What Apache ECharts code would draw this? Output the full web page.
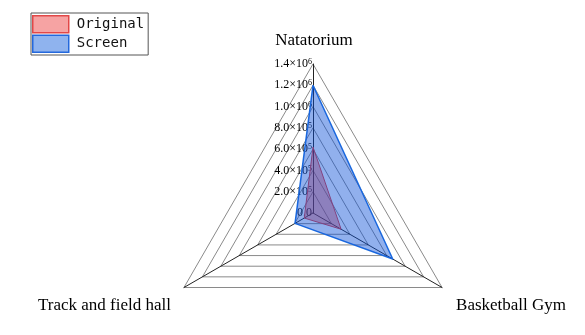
<!DOCTYPE html>
<html>
<head>
<meta charset="utf-8">
<script src="https://cdn.jsdelivr.net/npm/echarts@6/dist/echarts.min.js"></script>
<style>
  html, body { margin: 0; padding: 0; background: #fff; }
  #chart { width: 585px; height: 335px; }
</style>
</head>
<body>
<div id="chart"></div>
<script>
// indicator names, clockwise from the top as ECharts lays them out
const categories = ['Natatorium', 'Track and field hall', 'Basketball Gym']
const seriesNames = ['Original', 'Screen']
const original = [620000, 95000, 305000]
const screen = [1200000, 195000, 865000]
const axisMax = 1400000
const axisStep = 200000

const serif = '"Liberation Serif", "Times New Roman", serif'

// 1.4×10^6 style tick text
function sciLabel (v) {
  if (v === 0) return '{m|0.0}'
  const exp = Math.floor(Math.log10(v) + 1e-9)
  const mant = (v / Math.pow(10, exp)).toFixed(1)
  return '{m|' + mant + '×10}{s|' + exp + '}'
}

const nameKeys = ['t', 'l', 'r']

var myChart = echarts.init(document.getElementById('chart'))

var option = {
  animation: false,
  legend: {
    orient: 'vertical',
    left: 31,
    top: 13,
    icon: 'rect',
    itemWidth: 36,
    itemHeight: 17,
    itemGap: 1,
    padding: [2, 4, 2, 1],
    borderColor: '#555',
    borderWidth: 1,
    textStyle: {
      fontFamily: '"DejaVu Sans Mono", monospace',
      fontSize: 14,
      color: '#111',
      padding: [0, 0, 0, 3]
    },
    data: [
      { name: seriesNames[0], itemStyle: { color: '#f6a3a3', borderColor: '#e24848', borderWidth: 1.5 } },
      { name: seriesNames[1], itemStyle: { color: '#8fb3ee', borderColor: '#2468dc', borderWidth: 1.5 } }
    ]
  },
  radar: {
    center: [313, 213],
    radius: 149,
    startAngle: 90,
    shape: 'polygon',
    splitNumber: axisMax / axisStep,
    nameGap: -15,
    indicator: categories.map(n => ({ name: n, min: 0, max: axisMax })),
    axisName: {
      formatter: function (name) {
        return '{' + nameKeys[categories.indexOf(name)] + '|' + name + '}'
      },
      color: '#000',
      fontFamily: serif,
      fontSize: 17,
      rich: {
        t: { fontFamily: serif, fontSize: 17, color: '#000', padding: [0, 0, 30, 2] },
        l: { fontFamily: serif, fontSize: 17, color: '#000', padding: [52, 26, 0, 0] },
        r: { fontFamily: serif, fontSize: 17, color: '#000', padding: [52, 0, 0, 27] }
      }
    },
    axisLine: { lineStyle: { color: '#222', width: 1 } },
    splitLine: { lineStyle: { color: '#8a8a8a', width: 1 } },
    splitArea: { show: false },
    axisLabel: { show: false },
    axisTick: { show: false }
  },
  // invisible value axis laid over the top spoke, only for the tick labels
  grid: { left: 313, top: 64, width: 1, height: 149 },
  xAxis: { type: 'value', show: false },
  yAxis: {
    type: 'value',
    min: 0,
    max: axisMax,
    interval: axisStep,
    axisLine: { show: false },
    axisTick: { show: false },
    splitLine: { show: false },
    axisLabel: {
      margin: 1,
      formatter: sciLabel,
      rich: {
        m: { fontFamily: serif, fontSize: 12, color: '#000' },
        s: { fontFamily: serif, fontSize: 8, color: '#000', verticalAlign: 'top', padding: [0, 0, 0, 0] }
      }
    }
  },
  series: [
    {
      name: seriesNames[0],
      type: 'radar',
      symbol: 'none',
      lineStyle: { color: '#e03c3c', width: 1 },
      areaStyle: { color: 'rgba(240,40,40,0.4)', opacity: 1 },
      itemStyle: { color: '#e03c3c' },
      data: [{ name: seriesNames[0], value: original }]
    },
    {
      name: seriesNames[1],
      type: 'radar',
      symbol: 'none',
      lineStyle: { color: '#1f6fe0', width: 1.5 },
      areaStyle: { color: 'rgba(10,80,215,0.45)', opacity: 1 },
      itemStyle: { color: '#1f6fe0' },
      data: [{ name: seriesNames[1], value: screen }]
    }
  ]
}

myChart.setOption(option, true)
</script>
</body>
</html>
